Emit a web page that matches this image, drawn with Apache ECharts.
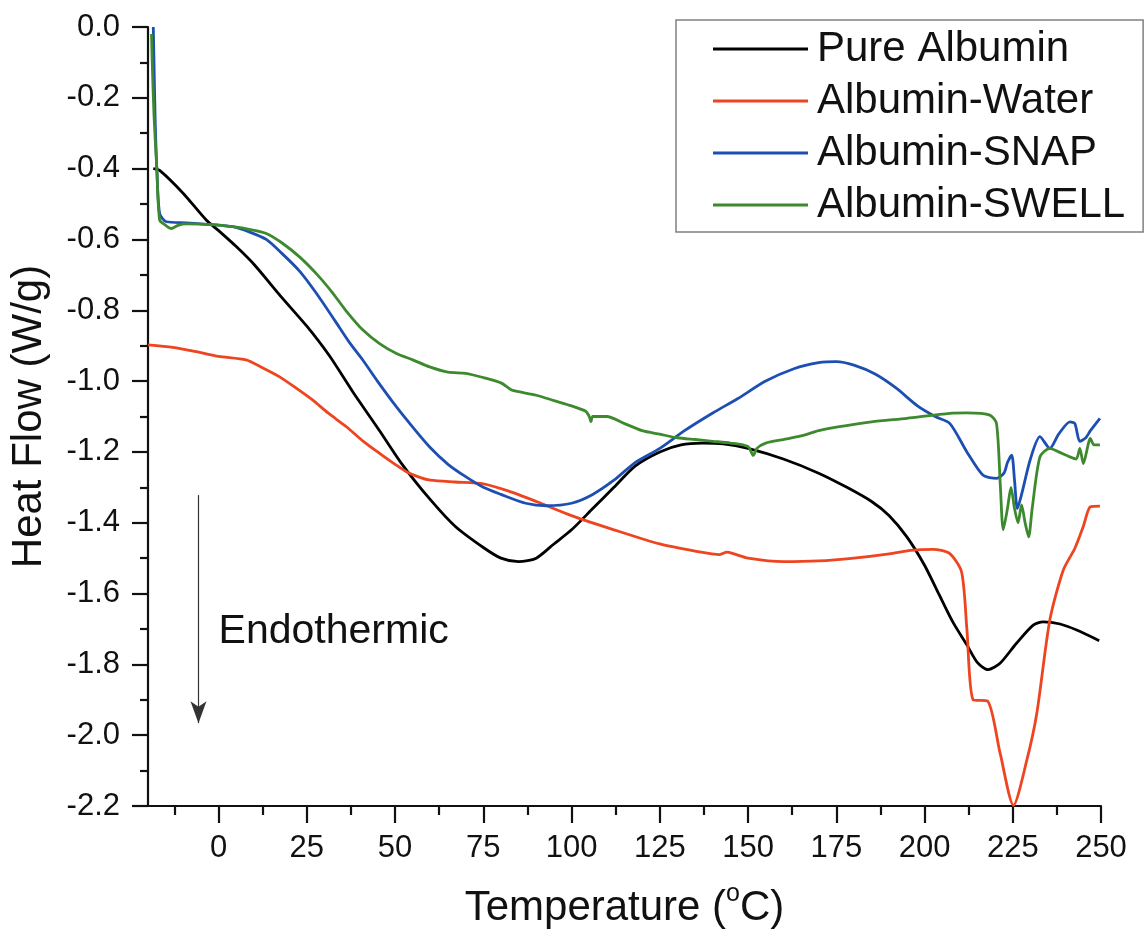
<!DOCTYPE html>
<html>
<head>
<meta charset="utf-8">
<script src="https://cdn.jsdelivr.net/npm/echarts@6/dist/echarts.min.js"></script>
<style>
html,body{margin:0;padding:0;background:#fff;}
#chart{width:1148px;height:944px;}
</style>
</head>
<body>
<div id="chart"></div>
<script>
var seriesNames = ['Pure Albumin', 'Albumin-Water', 'Albumin-SNAP', 'Albumin-SWELL'];
var xTickValues = [0, 25, 50, 75, 100, 125, 150, 175, 200, 225, 250];
var xMinorTickValues = [-12.5, 12.5, 37.5, 62.5, 87.5, 112.5, 137.5, 162.5, 187.5, 212.5, 237.5];

var pureAlbumin = [
  [-18.5,-0.40],[-16.7,-0.405],[-10,-0.47],[-3.5,-0.545],[0,-0.575],[5,-0.62],[10,-0.67],
  [18,-0.765],[25,-0.845],[31.5,-0.93],[38,-1.03],[45.6,-1.14],[52,-1.235],[60,-1.335],
  [67,-1.41],[75,-1.47],[80,-1.50],[85,-1.51],[90,-1.50],[95,-1.46],[100,-1.42],
  [106,-1.36],[112,-1.30],[118,-1.24],[125,-1.20],[131,-1.18],[137,-1.175],[143,-1.177],
  [150,-1.19],[160,-1.22],[170,-1.26],[178,-1.30],[185,-1.34],[190,-1.38],[195,-1.44],
  [200,-1.52],[204,-1.60],[208,-1.68],[212,-1.745],[215,-1.795],[218,-1.815],
  [221.4,-1.797],[226,-1.741],[230.8,-1.689],[233.6,-1.68],[238.4,-1.686],[243.1,-1.703],[249.5,-1.733]
];

var albuminWater = [
  [-20,-0.898],[-13,-0.905],[-6.3,-0.917],[0,-0.93],[7.8,-0.94],[12,-0.96],[17.3,-0.988],
  [22,-1.02],[26.7,-1.054],[31,-1.09],[36.2,-1.129],[41,-1.17],[45.6,-1.204],[50,-1.235],
  [53.2,-1.256],[57,-1.272],[60,-1.28],[67,-1.285],[75,-1.29],[82,-1.31],[90,-1.34],
  [100,-1.38],[112,-1.42],[125,-1.46],[135,-1.48],[142,-1.49],[144,-1.483],[146,-1.488],
  [150,-1.50],[160,-1.51],[170,-1.508],[180,-1.50],[190,-1.488],[196,-1.478],[202.4,-1.475],
  [207,-1.486],[210.5,-1.539],[212,-1.70],[213.8,-1.90],[217.8,-1.903],[221.4,-2.05],
  [225.2,-2.198],[229,-2.07],[231.8,-1.939],[235.5,-1.675],[239.3,-1.534],[242.6,-1.472],
  [245,-1.41],[247,-1.355],[249.7,-1.353]
];

var albuminSNAP = [
  [-18.5,0],[-18.3,-0.1],[-18,-0.25],[-17.5,-0.40],[-16.7,-0.527],[-14.8,-0.55],[-9.2,-0.553],
  [-2,-0.558],[4,-0.564],[9,-0.58],[13.5,-0.60],[18,-0.64],[23,-0.69],[27.7,-0.752],
  [33,-0.83],[37,-0.89],[40.9,-0.941],[45,-1.00],[50.4,-1.073],[55,-1.13],[59.8,-1.186],
  [65,-1.235],[70,-1.27],[75,-1.30],[80,-1.32],[87,-1.345],[93,-1.352],[100,-1.345],
  [106,-1.32],[112,-1.28],[118,-1.23],[125,-1.19],[132,-1.14],[140,-1.09],[147,-1.05],
  [155,-1.00],[163,-0.965],[170,-0.948],[175,-0.945],[180,-0.955],[186,-0.98],[192,-1.02],
  [198,-1.07],[203,-1.10],[207.2,-1.12],[212,-1.20],[216.6,-1.266],[220.4,-1.275],
  [222.5,-1.26],[223.5,-1.23],[224.7,-1.209],[225.5,-1.28],[226.3,-1.36],[227.5,-1.32],
  [230,-1.22],[232.7,-1.157],[235.5,-1.19],[238,-1.15],[241.2,-1.115],[242.6,-1.12],
  [244,-1.17],[245.7,-1.16],[247,-1.14],[249.7,-1.105]
];

var albuminSWELL = [
  [-19,-0.02],[-18.8,-0.10],[-18.3,-0.25],[-17.5,-0.40],[-16.7,-0.545],[-15,-0.56],
  [-13.4,-0.569],[-11.5,-0.56],[-9.2,-0.556],[-2,-0.558],[4,-0.564],[9,-0.572],[13.5,-0.583],
  [18,-0.61],[23,-0.65],[28,-0.70],[32.4,-0.752],[36,-0.80],[40.9,-0.856],[45.6,-0.894],
  [50.4,-0.922],[55,-0.94],[59.8,-0.96],[65,-0.975],[70,-0.978],[75,-0.99],[80,-1.005],
  [83,-1.025],[85,-1.03],[90,-1.04],[95,-1.055],[100,-1.07],[104,-1.085],[105,-1.10],
  [105.5,-1.115],[106,-1.10],[110,-1.10],[115,-1.12],[120,-1.14],[125,-1.15],[130,-1.16],
  [135,-1.165],[140,-1.17],[145,-1.175],[150,-1.185],[151.5,-1.21],[152.5,-1.19],
  [155,-1.175],[160,-1.165],[165,-1.155],[170,-1.14],[175,-1.13],[185,-1.115],[195,-1.105],
  [207.2,-1.091],[212,-1.09],[218.5,-1.096],[220.4,-1.12],[221.5,-1.30],[222.3,-1.42],
  [223.5,-1.36],[224.5,-1.30],[225.5,-1.36],[226.5,-1.40],[227.5,-1.35],[228.5,-1.40],
  [229.5,-1.44],[230.5,-1.36],[232.7,-1.214],[235.5,-1.19],[238,-1.20],[241.2,-1.214],
  [243,-1.22],[244,-1.19],[245,-1.233],[247,-1.162],[248,-1.18],[249.7,-1.18]
];

var arrowStart = [-5.7, -1.322];
var arrowEnd = [-5.7, -1.966];
var endoLabelPos = [0, -1.709];
var endoText = 'Endothermic';

var colors = ['#000000', '#ee4420', '#1d4fb3', '#3d8a2e'];
var FONT = '"Liberation Sans", Arial, sans-serif';

var chart = echarts.init(document.getElementById('chart'), null, {renderer: 'canvas'});

function mkSeries(i, data) {
  return {
    name: seriesNames[i],
    type: 'line',
    data: data,
    symbol: 'none',
    smooth: 0.25,
    lineStyle: {color: colors[i], width: 2.8},
    itemStyle: {color: colors[i]},
    z: 3 + i
  };
}

var s0 = mkSeries(0, pureAlbumin);
s0.markLine = {
  silent: true,
  symbol: ['none', 'arrow'],
  symbolSize: [12, 22],
  label: {show: false},
  lineStyle: {color: '#333', width: 1.2, type: 'solid'},
  data: [[{coord: arrowStart}, {coord: arrowEnd}]]
};
s0.markPoint = {
  silent: true,
  symbol: 'circle',
  symbolSize: 0,
  data: [{coord: endoLabelPos, value: endoText}],
  label: {
    show: true, position: 'right', distance: 0,
    formatter: endoText, color: '#111', fontSize: 41, fontFamily: FONT
  }
};

var option = {
  backgroundColor: '#ffffff',
  animation: false,
  textStyle: {fontFamily: FONT},
  grid: {left: 148, right: 47, top: 27, bottom: 138, containLabel: false},
  legend: {
    orient: 'vertical',
    left: 676,
    top: 20,
    data: seriesNames,
    icon: 'rect',
    itemWidth: 95,
    itemHeight: 3,
    itemGap: 0,
    padding: [3, 18, 1, 37],
    borderColor: '#808080',
    borderWidth: 1.5,
    textStyle: {fontSize: 42, color: '#111', fontFamily: FONT, lineHeight: 52, padding: [0, 0, 0, 4]}
  },
  xAxis: [{
    type: 'value',
    min: -20, max: 250,
    name: 'Temperature ({s|o}C)',
    nameLocation: 'middle',
    nameGap: 76,
    nameTextStyle: {
      fontSize: 42, color: '#111', fontFamily: FONT,
      rich: {s: {fontSize: 25, verticalAlign: 'top', lineHeight: 52, color: '#111', fontFamily: FONT}}
    },
    axisLine: {show: true, onZero: false, lineStyle: {color: '#111', width: 2.2}},
    axisTick: {show: true, customValues: xTickValues, length: 17, lineStyle: {color: '#111', width: 2.2}},
    axisLabel: {show: true, customValues: xTickValues, fontSize: 31, color: '#111', margin: 27, fontFamily: FONT},
    splitLine: {show: false}
  }, {
    type: 'value',
    min: -20, max: 250,
    position: 'bottom',
    axisLine: {show: false, onZero: false},
    axisTick: {show: true, customValues: xMinorTickValues, length: 9, lineStyle: {color: '#111', width: 2.2}},
    axisLabel: {show: false},
    splitLine: {show: false}
  }],
  yAxis: {
    type: 'value',
    min: -2.2, max: 0, interval: 0.2,
    name: 'Heat Flow (W/g)',
    nameLocation: 'middle',
    nameGap: 98,
    nameTextStyle: {fontSize: 42, color: '#111', fontFamily: FONT},
    axisLine: {show: true, onZero: false, lineStyle: {color: '#111', width: 2.2}},
    axisTick: {show: true, length: 16, lineStyle: {color: '#111', width: 2.2}},
    minorTick: {show: true, splitNumber: 2, length: 8, lineStyle: {color: '#111', width: 2.2}},
    axisLabel: {
      fontSize: 31, color: '#111', margin: 28, fontFamily: FONT,
      formatter: function (v) { return v.toFixed(1); }
    },
    splitLine: {show: false},
    minorSplitLine: {show: false}
  },
  series: [
    s0,
    mkSeries(1, albuminWater),
    mkSeries(2, albuminSNAP),
    mkSeries(3, albuminSWELL)
  ]
};
chart.setOption(option);
</script>
</body>
</html>
